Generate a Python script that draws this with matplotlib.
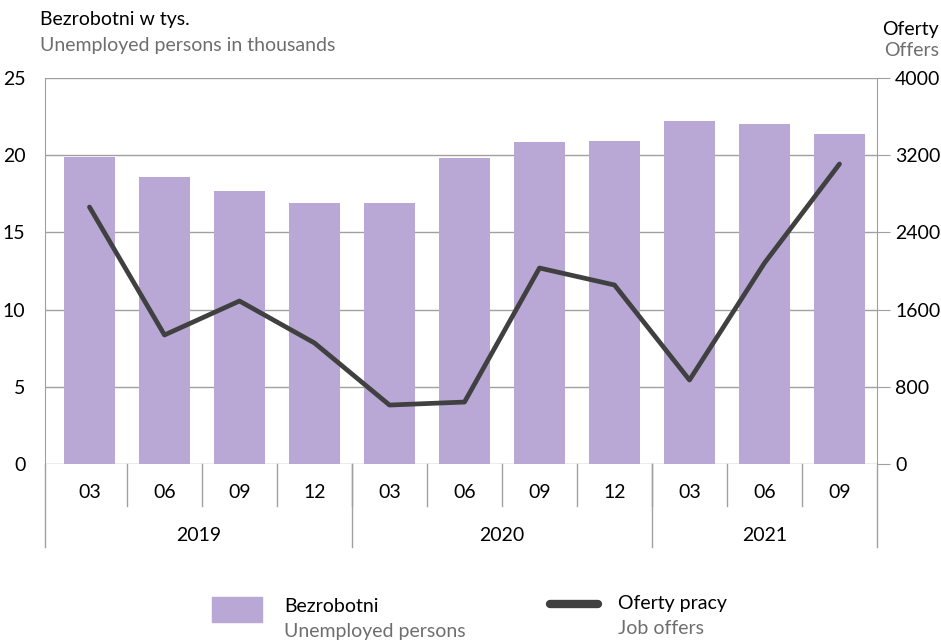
import matplotlib
matplotlib.use("Agg")
import matplotlib.pyplot as plt
from matplotlib.patches import Rectangle
from matplotlib.lines import Line2D

plt.rcParams['font.family'] = ['Lato', 'DejaVu Sans']

months = ["03", "06", "09", "12", "03", "06", "09", "12", "03", "06", "09"]
years = ["2019", "2020", "2021"]
year_counts = [4, 4, 3]
unemployed = [19.9, 18.6, 17.7, 16.9, 16.9, 19.8, 20.85, 20.95, 22.2, 22.0, 21.4]
offers = [2663, 1337, 1689, 1254, 611, 642, 2031, 1855, 870, 2083, 3109]

BAR = "#b9a7d6"
LINE = "#404040"
GRID = "#a0a0a0"
GREY_TXT = "#6e6e6e"
FS = 14

fig = plt.figure(figsize=(9.41, 6.42), dpi=100)
ax = fig.add_axes([45/941, 1-464/642, (877-45)/941, (464-78)/642])
ax2 = ax.twinx()

x = list(range(len(months)))
xl = -0.593
ax.bar(x, unemployed, width=0.69, color=BAR, zorder=2)
ax.set_xlim(xl, len(months)-0.5)
ax.set_ylim(0, 25)
ax.set_yticks([0, 5, 10, 15, 20, 25])
ax.yaxis.grid(True, color=GRID, linewidth=1, zorder=0)
ax.set_axisbelow(True)
ax.tick_params(axis='y', length=0, labelsize=FS, pad=14)
ax.set_xticks([])
for s in ['top', 'bottom']:
    ax.spines[s].set_visible(False)
ax.spines['left'].set_color(GRID)
ax.spines['right'].set_visible(False)

ax2.plot(x, offers, color=LINE, linewidth=3.4, solid_capstyle='round', solid_joinstyle='round', zorder=3)
ax2.set_ylim(0, 4000)
ax2.set_yticks([0, 800, 1600, 2400, 3200, 4000])
ax2.tick_params(axis='y', length=9, color=GRID, labelsize=FS, pad=4)
for s in ['top', 'bottom', 'left']:
    ax2.spines[s].set_visible(False)
ax2.spines['right'].set_color(GRID)

# category axis
tr = ax.get_xaxis_transform()
for i, m in enumerate(months):
    ax.text(i, -0.075, m, transform=tr, ha='center', va='center', fontsize=FS)
for i in range(len(months) - 1):
    ax.plot([i+0.5, i+0.5], [0, -0.109], transform=tr, color=GRID, lw=1, clip_on=False)
pos = xl
for yname, c in zip(years, year_counts):
    end = pos + c if pos != xl else -0.5 + c
    ax.text((pos + end)/2, -0.185, yname, transform=tr, ha='center', va='center', fontsize=FS)
    ax.plot([pos, pos], [0, -0.215], transform=tr, color=GRID, lw=1, clip_on=False)
    pos = end
ax.plot([pos, pos], [0, -0.215], transform=tr, color=GRID, lw=1, clip_on=False)

# titles
fig.text(40/941, 1-20/642, "Bezrobotni w tys.", fontsize=FS, va='center', ha='left')
fig.text(40/941, 1-46/642, "Unemployed persons in thousands", fontsize=FS, va='center', ha='left', color=GREY_TXT)
fig.text(939/941, 1-29/642, "Oferty", fontsize=FS, va='center', ha='right')
fig.text(939/941, 1-51/642, "Offers", fontsize=FS, va='center', ha='right', color=GREY_TXT)

# legend
fig.patches.append(Rectangle((212/941, 1-622/642), 50/941, 25/642, transform=fig.transFigure, color=BAR))
fig.text(284/941, 1-606/642, "Bezrobotni", fontsize=FS, va='center')
fig.text(284/941, 1-631/642, "Unemployed persons", fontsize=FS, va='center', color=GREY_TXT)
fig.lines.append(Line2D([550/941, 598/941], [1-604/642, 1-604/642], transform=fig.transFigure, color=LINE, lw=6, solid_capstyle='round'))
fig.text(618/941, 1-604/642, "Oferty pracy", fontsize=FS, va='center')
fig.text(618/941, 1-628/642, "Job offers", fontsize=FS, va='center', color=GREY_TXT)

fig.savefig("out.png", dpi=100)
